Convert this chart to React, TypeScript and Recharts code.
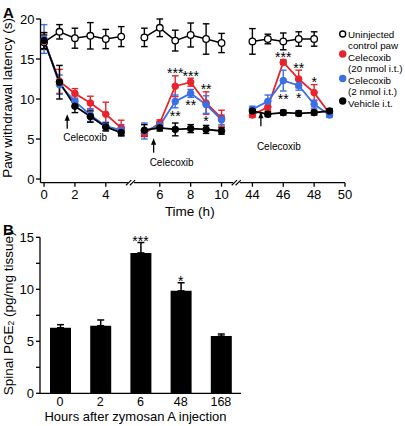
import React from 'react';
import {
  ComposedChart,
  Line,
  ErrorBar,
  XAxis,
  YAxis,
  ReferenceLine,
  ReferenceDot,
  BarChart,
  Bar,
  Label,
} from 'recharts';

const FONT = '"Liberation Sans", Arial, Helvetica, sans-serif';
const RED = '#e8232b';
const BLUE = '#3a6fe5';
const BLACK = '#000000';

// ---------- Panel A data (three experiments, broken time axis) ----------
const seg1Times = [0, 1, 2, 3, 4, 5];
const seg2Times = [5, 6, 7, 8, 9, 10];
const seg3Times = [44, 45, 46, 47, 48, 49];
const timeTickLabels = [[0, 2, 4], [6, 8, 10], [44, 46, 48, 50]];

const controlMean = [
  [17.1, 18.4, 17.6, 17.9, 17.5, 17.8],
  [17.7, 18.9, 17.3, 18.0, 17.5, 17.0],
  [17.2, 17.5, 17.2, 17.5, 17.5, null],
];
const controlErr = [
  [0.9, 0.9, 1.25, 1.65, 1.2, 1.25],
  [1.15, 1.1, 1.3, 1.5, 1.9, 1.2],
  [1.6, 0.6, 1.05, 0.9, 0.9, null],
];
const red20Mean = [
  [17.3, 12.2, 10.7, 9.5, 8.1, 6.4],
  [5.7, 7.0, 11.6, 12.1, 9.5, 7.6],
  [8.0, 9.0, 14.6, 12.5, 10.8, 8.2],
];
const red20Err = [
  [1.0, 1.5, 0.6, 0.85, 1.5, 0.95],
  [0.4, 0.4, 1.3, 0.5, 1.4, 1.0],
  [0.3, 0.4, 0.3, 1.1, 1.0, 0.3],
];
const blue2Mean = [
  [17.5, 11.8, 9.7, 8.0, 6.6, 6.1],
  [6.0, 6.7, 9.7, 10.7, 9.3, 7.4],
  [8.7, 9.7, 12.3, 11.7, 9.35, 8.0],
];
const blue2Err = [
  [1.8, 1.2, 0.7, 0.8, 0.5, 0.7],
  [1.0, 0.4, 0.8, 0.5, 1.1, 0.6],
  [0.4, 0.8, 1.3, 0.6, 0.5, 0.3],
];
const vehicleMean = [
  [17.3, 12.1, 9.1, 7.8, 6.5, 5.8],
  [6.1, 6.4, 6.2, 6.3, 6.2, 6.0],
  [8.5, 8.1, 8.3, 8.2, 8.3, 8.5],
];
const vehicleErr = [
  [1.0, 2.1, 0.8, 0.7, 0.5, 0.4],
  [0.7, 0.4, 0.8, 0.5, 0.5, 0.4],
  [0.3, 0.3, 0.3, 0.3, 0.3, 0.3],
];
const red20Sig = [
  ['', '', '', '', '', ''],
  ['', '', '***', '***', '**', ''],
  ['', '', '***', '**', '*', ''],
];
const blue2Sig = [
  ['', '', '', '', '', ''],
  ['', '', '**', '**', '*', ''],
  ['', '', '**', '*', '', ''],
];
const injectionTimes = [1.5, 5.6, 44.55];
const injectionLabel = 'Celecoxib';

const seriesNames = ['Uninjected\ncontrol paw', 'Celecoxib\n(20 nmol i.t.)', 'Celecoxib\n(2 nmol i.t.)', 'Vehicle i.t.'];

// ---------- Panel B data ----------
const pgeHours = ['0', '2', '6', '48', '168'];
const pgeMean = [6.3, 6.5, 13.5, 9.85, 5.5];
const pgeErr = [0.3, 0.55, 1.0, 0.78, 0.2];
const pgeSig = ['', '', '***', '*', ''];

// ---------- broken-axis mapping ----------
const segTimes = [seg1Times, seg2Times, seg3Times];
const segOffset = [0, 1.5, -30.5];
const toU = (t: number, s: number) => t + segOffset[s];
const breakCenters = [5.62, 12.47];
const X_MIN = -0.23;
const X_MAX = 19.5;
const Y_MIN = -0.46;

const rowsA: any[] = [];
segTimes.forEach((times, s) => {
  if (s > 0) rowsA.push({ u: breakCenters[s - 1] });
  times.forEach((t, i) => {
    rowsA.push({
      u: toU(t, s),
      control: controlMean[s][i],
      controlErr: controlErr[s][i],
      red: red20Mean[s][i],
      redErr: red20Err[s][i],
      blue: blue2Mean[s][i],
      blueErr: blue2Err[s][i],
      vehicle: vehicleMean[s][i],
      vehicleErr: vehicleErr[s][i],
    });
  });
});

const tickUs = timeTickLabels.flatMap((labels, s) => labels.map((t) => toU(t, s)));
const tickText = new Map<number, string>(
  timeTickLabels.flatMap((labels, s) => labels.map((t) => [toU(t, s), String(t)] as [number, string]))
);

const rowsB = pgeHours.map((h, i) => ({
  hour: h,
  pge: pgeMean[i],
  pgeErr: [0, pgeErr[i]],
}));

const axisSegments: [number, number][] = [
  [X_MIN, breakCenters[0] - 0.19],
  [breakCenters[0] + 0.21, breakCenters[1] - 0.21],
  [breakCenters[1] + 0.21, X_MAX],
];

// arrow tip heights (data units) and text offsets (px) for the injection annotations
const arrowLayout = [
  { seg: 0, tip: 8.1, textDy: 23 },
  { seg: 1, tip: 5.1, textDy: 24.5 },
  { seg: 2, tip: 8.4, textDy: 35 },
];

const tickStyle = { fontSize: 13, fill: '#000', fontFamily: FONT };
const axisLineStyle = { stroke: '#000', strokeWidth: 1.3 };

function ChartA() {
  const lineCommon = { type: 'linear' as const, isAnimationActive: false, activeDot: false as const, connectNulls: false };
  return (
    <ComposedChart
      width={405}
      height={230}
      data={rowsA}
      margin={{ top: 19, right: 60, bottom: 17.3, left: 5.5 }}
      style={{ fontFamily: FONT }}
    >
      <XAxis
        type="number"
        dataKey="u"
        domain={[X_MIN, X_MAX]}
        allowDataOverflow
        ticks={tickUs}
        interval={0}
        tickFormatter={(v: number) => tickText.get(v) ?? ''}
        axisLine={false}
        tickLine={axisLineStyle}
        tickSize={4}
        tickMargin={3.5}
        tick={tickStyle}
        height={30}
      >
        <Label
          content={(p: any) => {
            const vb = p.viewBox || {};
            return (
              <text
                x={vb.x + vb.width / 2 - 3}
                y={vb.y + 28.5}
                textAnchor="middle"
                dominantBaseline="central"
                fontSize={13.5}
                fontFamily={FONT}
                fill="#000"
              >
                Time (h)
              </text>
            );
          }}
        />
      </XAxis>
      <YAxis
        type="number"
        domain={[Y_MIN, 20]}
        allowDataOverflow
        ticks={[0, 5, 10, 15, 20]}
        interval={0}
        width={35}
        tickSize={4.5}
        tickMargin={1.5}
        axisLine={axisLineStyle}
        tickLine={axisLineStyle}
        tick={tickStyle}
      >
        <Label
          content={(p: any) => {
            const vb = p.viewBox || {};
            const cx = 8;
            const cy = vb.y + vb.height / 2 - 3;
            return (
              <text
                x={cx}
                y={cy}
                transform={`rotate(-90 ${cx} ${cy})`}
                textAnchor="middle"
                dominantBaseline="central"
                fontSize={13.5}
                fontFamily={FONT}
                fill="#000"
              >
                Paw withdrawal latency (s)
              </text>
            );
          }}
        />
      </YAxis>

      {axisSegments.map(([a, b], i) => (
        <ReferenceLine
          key={`ax${i}`}
          segment={[{ x: a, y: Y_MIN }, { x: b, y: Y_MIN }]}
          stroke="#000"
          strokeWidth={1.3}
          ifOverflow="visible"
        />
      ))}
      {breakCenters.flatMap((c, i) =>
        [-0.25, 0.0].map((d, k) => (
          <ReferenceLine
            key={`br${i}${k}`}
            segment={[{ x: c + d - 0.06, y: Y_MIN - 0.32 }, { x: c + d + 0.28, y: Y_MIN + 0.32 }]}
            stroke="#000"
            strokeWidth={1.1}
            ifOverflow="visible"
          />
        ))
      )}

      <Line
        {...lineCommon}
        dataKey="control"
        name={seriesNames[0]}
        stroke={BLACK}
        strokeWidth={1.5}
        dot={{ r: 3.3, fill: '#fff', stroke: BLACK, strokeWidth: 1.3 }}
      >
        <ErrorBar dataKey="controlErr" width={3.3} stroke={BLACK} strokeWidth={1.4} direction="y" />
      </Line>
      <Line
        {...lineCommon}
        dataKey="red"
        name={seriesNames[1]}
        stroke={RED}
        strokeWidth={1.8}
        dot={{ r: 3.3, fill: RED, stroke: RED, strokeWidth: 1 }}
      >
        <ErrorBar dataKey="redErr" width={3.3} stroke={RED} strokeWidth={1.4} direction="y" />
      </Line>
      <Line
        {...lineCommon}
        dataKey="blue"
        name={seriesNames[2]}
        stroke={BLUE}
        strokeWidth={1.8}
        dot={{ r: 3.3, fill: BLUE, stroke: BLUE, strokeWidth: 1 }}
      >
        <ErrorBar dataKey="blueErr" width={3.3} stroke={BLUE} strokeWidth={1.4} direction="y" />
      </Line>
      <Line
        {...lineCommon}
        dataKey="vehicle"
        name={seriesNames[3]}
        stroke={BLACK}
        strokeWidth={1.8}
        dot={{ r: 3.3, fill: BLACK, stroke: BLACK, strokeWidth: 1 }}
      >
        <ErrorBar dataKey="vehicleErr" width={3.3} stroke={BLACK} strokeWidth={1.4} direction="y" />
      </Line>

      {segTimes.flatMap((times, s) =>
        times.map((t, i) =>
          red20Sig[s][i] ? (
            <ReferenceDot
              key={`rs${s}-${i}`}
              x={toU(t, s)}
              y={(red20Mean[s][i] as number) + red20Err[s][i]}
              r={0}
              ifOverflow="visible"
              shape={(p: any) => (
                <text x={p.cx} y={p.cy + 2.5} textAnchor="middle" fontSize={14} fontFamily={FONT} fill="#000">
                  {red20Sig[s][i]}
                </text>
              )}
            />
          ) : null
        )
      )}
      {segTimes.flatMap((times, s) =>
        times.map((t, i) =>
          blue2Sig[s][i] ? (
            <ReferenceDot
              key={`bs${s}-${i}`}
              x={toU(t, s)}
              y={(blue2Mean[s][i] as number) - blue2Err[s][i]}
              r={0}
              ifOverflow="visible"
              shape={(p: any) => (
                <text x={p.cx} y={p.cy + 13} textAnchor="middle" fontSize={14} fontFamily={FONT} fill="#000">
                  {blue2Sig[s][i]}
                </text>
              )}
            />
          ) : null
        )
      )}

      {arrowLayout.map((a, i) => (
        <ReferenceDot
          key={`arrow${i}`}
          x={toU(injectionTimes[i], a.seg)}
          y={a.tip}
          r={0}
          ifOverflow="visible"
          shape={(p: any) => (
            <g>
              <line x1={p.cx} y1={p.cy + 5} x2={p.cx} y2={p.cy + 14.5} stroke="#000" strokeWidth={1.3} />
              <path d={`M${p.cx - 2.6},${p.cy + 6.5} L${p.cx},${p.cy} L${p.cx + 2.6},${p.cy + 6.5} Z`} fill="#000" />
              <text
                x={p.cx - 4}
                y={p.cy + a.textDy}
                dominantBaseline="central"
                fontSize={10}
                fontFamily={FONT}
                fill="#000"
              >
                {injectionLabel}
              </text>
            </g>
          )}
        />
      ))}
    </ComposedChart>
  );
}

function ChartB() {
  return (
    <BarChart
      width={405}
      height={206}
      data={rowsB}
      margin={{ top: 17.3, right: 164, bottom: 12.7, left: 4 }}
      style={{ fontFamily: FONT }}
    >
      <XAxis
        dataKey="hour"
        interval={0}
        tickLine={false}
        axisLine={axisLineStyle}
        tickSize={3}
        tickMargin={1}
        tick={{ ...tickStyle, fontSize: 12.5 }}
        height={20}
      >
        <Label
          content={(p: any) => {
            const vb = p.viewBox || {};
            return (
              <text
                x={vb.x + vb.width / 2 - 5}
                y={vb.y + 23.5}
                textAnchor="middle"
                dominantBaseline="central"
                fontSize={13}
                fontFamily={FONT}
                fill="#000"
              >
                Hours after zymosan A injection
              </text>
            );
          }}
        />
      </XAxis>
      <YAxis
        type="number"
        domain={[0, 15]}
        allowDataOverflow
        ticks={[0, 2.5, 5, 7.5, 10, 12.5, 15]}
        interval={0}
        tickFormatter={(v: number) => (v % 5 === 0 ? String(v) : '')}
        width={36}
        tickSize={4}
        tickMargin={2}
        axisLine={axisLineStyle}
        tickLine={axisLineStyle}
        tick={tickStyle}
      >
        <Label
          content={(p: any) => {
            const vb = p.viewBox || {};
            const cx = 8.5;
            const cy = vb.y + vb.height / 2 - 2;
            return (
              <text
                x={cx}
                y={cy}
                transform={`rotate(-90 ${cx} ${cy})`}
                textAnchor="middle"
                dominantBaseline="central"
                fontSize={13.5}
                fontFamily={FONT}
                fill="#000"
              >
                Spinal PGE
                <tspan fontSize={8.5} dy={3}>2</tspan>
                <tspan dy={-3}> (pg/mg tissue)</tspan>
              </text>
            );
          }}
        />
      </YAxis>
      <Bar dataKey="pge" fill="#000" barSize={21} isAnimationActive={false}>
        <ErrorBar dataKey="pgeErr" width={3.5} stroke="#000" strokeWidth={1.5} direction="y" />
      </Bar>
      {pgeHours.map((h, i) =>
        pgeSig[i] ? (
          <ReferenceDot
            key={`ps${i}`}
            x={h}
            y={pgeMean[i] + pgeErr[i]}
            r={0}
            ifOverflow="visible"
            shape={(p: any) => (
              <text x={p.cx} y={p.cy + 3} textAnchor="middle" fontSize={14} fontFamily={FONT} fill="#000">
                {pgeSig[i]}
              </text>
            )}
          />
        ) : null
      )}
    </BarChart>
  );
}

function Overlay() {
  const legendX = 342.7;
  const textX = 348;
  const lines = seriesNames.flatMap((n) => n.split('\n'));
  const baselines = [37.5, 49, 60.5, 72, 83.5, 95, 106.5];
  const markers = [
    { y: 34, fill: '#fff', stroke: BLACK },
    { y: 54, fill: RED, stroke: RED },
    { y: 78.5, fill: BLUE, stroke: BLUE },
    { y: 101, fill: BLACK, stroke: BLACK },
  ];
  return (
    <svg
      width={405}
      height={426}
      style={{ position: 'absolute', left: 0, top: 0, pointerEvents: 'none' }}
    >
      <text x={3} y={17.5} fontSize={15} fontWeight="bold" fontFamily={FONT} fill="#000">A</text>
      <text x={3} y={235} fontSize={15} fontWeight="bold" fontFamily={FONT} fill="#000">B</text>
      {markers.map((m, i) => (
        <circle key={i} cx={legendX} cy={m.y} r={3} fill={m.fill} stroke={m.stroke} strokeWidth={1.4} />
      ))}
      {lines.map((l, i) => (
        <text key={i} x={textX} y={baselines[i]} fontSize={9.8} fontFamily={FONT} fill="#000">
          {l}
        </text>
      ))}
    </svg>
  );
}

export default function App() {
  return (
    <div
      style={{
        position: 'absolute',
        left: 0,
        top: 0,
        width: 405,
        height: 426,
        background: '#fff',
        fontFamily: FONT,
        overflow: 'hidden',
      }}
    >
      <div style={{ position: 'absolute', left: 0, top: 0 }}>
        <ChartA />
      </div>
      <div style={{ position: 'absolute', left: 0, top: 220 }}>
        <ChartB />
      </div>
      <Overlay />
    </div>
  );
}
